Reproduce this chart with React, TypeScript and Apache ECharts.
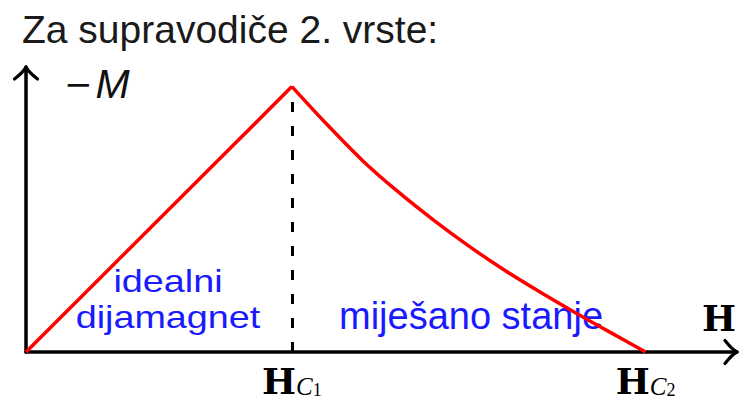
import React, { useEffect, useRef } from 'react';
import * as echarts from 'echarts';

// ---- content / data ----
const TITLE = 'Za supravodiče 2. vrste:';
const Y_NAME_MINUS = '−';
const Y_NAME_SYMBOL = 'M';
const X_NAME = 'H';
const HC1 = 1;
const HC2 = 2.33;
const X_MAX = 2.67;
const Y_MAX = 1.07;
const tickValues = [HC1, HC2];
const tickSubscripts = ['1', '2'];
// ideal diamagnet: -M rises linearly up to H_C1
const hIdeal = [0, 1];
const mIdeal = [0, 1];
// mixed state: -M falls to zero at H_C2
const hMixed = [1, 1.134, 1.267, 1.4, 1.534, 1.667, 1.8, 1.933, 2.066, 2.199, 2.33];
const mMixed = [1, 0.855, 0.72, 0.603, 0.496, 0.398, 0.308, 0.226, 0.148, 0.073, 0];
const REGION_IDEAL_1 = 'idealni';
const REGION_IDEAL_2 = 'dijamagnet';
const REGION_MIXED = 'miješano stanje';

const SANS = '"Liberation Sans", Arial, sans-serif';
const SERIF = '"DejaVu Serif", serif';
const MSERIF = '"Liberation Serif", serif';
const RED = '#ff0000';
const BLUE = '#1a1aff';

export default function App() {
  const ref = useRef<HTMLDivElement>(null);
  useEffect(() => {
    if (!ref.current) return;
    const chart = echarts.init(ref.current, null, { renderer: 'svg' });
    const axisLine = {
      show: true,
      onZero: false,
      lineStyle: { color: '#000', width: 3.5 },
    };
    const blueText = (text: string, x: number, y: number, size: number, sx = 1) => ({
      type: 'text',
      x,
      y,
      scaleX: sx,
      z: 1,
      silent: true,
      style: {
        text,
        fill: BLUE,
        fontFamily: SANS,
        fontSize: size,
        textAlign: 'center',
        textVerticalAlign: 'middle',
      },
    });
    const arm = (x1: number, y1: number, x2: number, y2: number, cx: number, cy: number) => ({
      type: 'bezierCurve',
      z: 10,
      silent: true,
      shape: { x1, y1, x2, y2, cpx1: cx, cpy1: cy },
      style: { stroke: '#000', lineWidth: 3.2, fill: null, lineCap: 'round' },
    });
    const option: any = {
      animation: false,
      backgroundColor: '#ffffff',
      title: {
        text: TITLE,
        left: 22,
        top: 10,
        padding: 0,
        textStyle: { fontFamily: SANS, fontSize: 39, fontWeight: 'normal', color: '#1a1a1a' },
      },
      grid: { left: 26, right: 2, top: 68, bottom: 55, containLabel: false },
      xAxis: {
        type: 'value',
        min: 0,
        max: X_MAX,
        axisLine,
        axisTick: { show: false },
        splitLine: { show: false },
        axisLabel: {
          customValues: tickValues,
          margin: 11,
          formatter: (v: number) => {
            const i = tickValues.findIndex((t) => Math.abs(t - v) < 1e-6);
            return `{h|H}{c|C}{n|${tickSubscripts[i] ?? ''}}`;
          },
          rich: {
            h: { fontFamily: SERIF, fontWeight: 'bold', fontSize: 36, lineHeight: 36, color: '#000' },
            c: { fontFamily: MSERIF, fontStyle: 'italic', fontSize: 25, lineHeight: 15, verticalAlign: 'bottom', color: '#000' },
            n: { fontFamily: MSERIF, fontSize: 18, lineHeight: 12, verticalAlign: 'bottom', color: '#000' },
          },
        },
        name: X_NAME,
        nameLocation: 'end',
        nameGap: 0,
        nameTextStyle: {
          fontFamily: SERIF,
          fontWeight: 'bold',
          fontSize: 36,
          color: '#000',
          align: 'right',
          verticalAlign: 'bottom',
          padding: [0, 0, 16, 0],
        },
      },
      yAxis: {
        type: 'value',
        min: 0,
        max: Y_MAX,
        axisLine,
        axisTick: { show: false },
        axisLabel: { show: false },
        splitLine: { show: false },
        name: `{a|${Y_NAME_MINUS}}{b|${Y_NAME_SYMBOL}}`,
        nameLocation: 'end',
        nameGap: -16,
        nameTextStyle: {
          align: 'left',
          verticalAlign: 'middle',
          padding: [0, 0, 0, 38],
          rich: {
            a: { fontFamily: '"DejaVu Sans", sans-serif', fontSize: 34, color: '#111', padding: [0, 3, 0, 0] },
            b: { fontFamily: SANS, fontStyle: 'italic', fontSize: 41, color: '#111' },
          },
        },
      },
      series: [
        {
          type: 'line',
          data: hIdeal.map((h, i) => [h, mIdeal[i]]),
          symbol: 'none',
          z: 3,
          lineStyle: { color: RED, width: 3.5 },
          emphasis: { disabled: true },
          markLine: {
            silent: true,
            symbol: ['none', 'none'],
            label: { show: false },
            z: 2,
            lineStyle: { color: '#000', width: 3, type: [10, 14] },
            data: [[{ coord: [HC1, 0] }, { coord: [HC1, mIdeal[1]] }]],
          },
        },
        {
          type: 'line',
          data: hMixed.map((h, i) => [h, mMixed[i]]),
          symbol: 'none',
          smooth: 0.3,
          z: 3,
          lineStyle: { color: RED, width: 3.5 },
          emphasis: { disabled: true },
        },
      ],
    };
    chart.setOption(option);
    const [xe, y0] = chart.convertToPixel({ gridIndex: 0 }, [X_MAX, 0]) as number[];
    const [x0, ye] = chart.convertToPixel({ gridIndex: 0 }, [0, Y_MAX]) as number[];
    chart.setOption({
      graphic: [
        blueText(REGION_IDEAL_1, 168, 281, 32, 1.18),
        blueText(REGION_IDEAL_2, 168, 317, 32, 1.18),
        blueText(REGION_MIXED, 471, 316, 38),
        // arrowheads at the axis ends
        arm(xe + 1, y0, xe - 11, y0 - 11.5, xe - 4, y0 - 2.5),
        arm(xe + 1, y0, xe - 11, y0 + 11.5, xe - 4, y0 + 2.5),
        arm(x0, ye - 1, x0 - 11.5, ye + 11, x0 - 2.5, ye + 4),
        arm(x0, ye - 1, x0 + 11.5, ye + 11, x0 + 2.5, ye + 4),
      ],
    });
    return () => chart.dispose();
  }, []);
  return (
    <div
      ref={ref}
      style={{ position: 'fixed', left: 0, top: 0, width: 739, height: 407, background: '#fff' }}
    />
  );
}
